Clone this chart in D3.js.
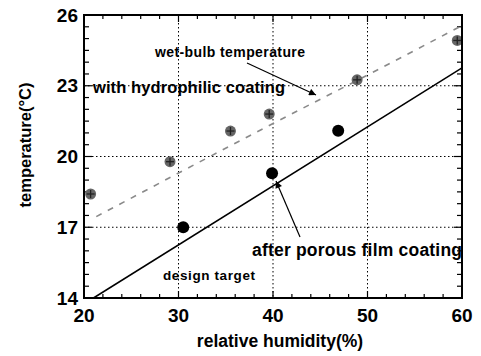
<!DOCTYPE html>
<html><head><meta charset="utf-8">
<script src="https://cdn.jsdelivr.net/npm/d3@7"></script>
<style>body{margin:0;background:#fff}svg{display:block}text{font-family:"Liberation Sans",Arial,sans-serif;fill:#000}</style>
</head><body><svg id="c" width="481" height="356"></svg>
<script>
const hydroRH = [20.7, 29.1, 35.5, 39.6, 48.9, 59.5];
const hydroT  = [18.41, 19.78, 21.08, 21.8, 23.25, 24.92];
const porousRH = [30.5, 39.9, 46.9];
const porousT  = [17.0, 19.29, 21.09];
const targetRH = [21.0, 60];
const targetT  = [14.0, 23.76];
const wetRH = [21.3, 30, 40, 50, 60];
const wetT  = [17.45, 19.3, 21.4, 23.45, 25.55];
const xTicks = [20, 30, 40, 50, 60];
const yTicks = [14, 17, 20, 23, 26];
const xLabel = "relative humidity(%)";
const yLabel = "temperature(°C)";

const svg = d3.select("#c");
const x = d3.scaleLinear().domain([20, 60]).range([84, 462]);
const y = d3.scaleLinear().domain([14, 26]).range([298, 15]);
const L = 84, R = 462, T = 15, B = 298;

svg.append("defs").append("marker").attr("id","ah").attr("viewBox","0 0 10 10")
  .attr("refX",10).attr("refY",5).attr("markerWidth",10).attr("markerHeight",7)
  .attr("markerUnits","userSpaceOnUse").attr("orient","auto")
  .append("path").attr("d","M0,0L10,5L0,10z").attr("fill","#000");

const g = svg.append("g");
xTicks.slice(1,-1).forEach(v => g.append("line").attr("x1",x(v)).attr("x2",x(v)).attr("y1",T).attr("y2",B)
  .attr("stroke","#000").attr("stroke-width",1).attr("stroke-dasharray","1.5,2.5"));
yTicks.slice(1,-1).forEach(v => g.append("line").attr("y1",y(v)).attr("y2",y(v)).attr("x1",L).attr("x2",R)
  .attr("stroke","#000").attr("stroke-width",1).attr("stroke-dasharray","1.5,2.5"));

d3.range(20, 60.01, 2).forEach(v => {
  const len = (v % 10 === 0) ? 7 : 4;
  g.append("line").attr("x1",x(v)).attr("x2",x(v)).attr("y1",B).attr("y2",B-len).attr("stroke","#000").attr("stroke-width",1.2);
  g.append("line").attr("x1",x(v)).attr("x2",x(v)).attr("y1",T).attr("y2",T+len).attr("stroke","#000").attr("stroke-width",1.2);
});
d3.range(14, 26.01, 0.5).forEach(v => {
  const len = (Math.abs((v-14)%3) < 1e-6) ? 8 : 5;
  g.append("line").attr("y1",y(v)).attr("y2",y(v)).attr("x1",L).attr("x2",L+len).attr("stroke","#000").attr("stroke-width",1.2);
  g.append("line").attr("y1",y(v)).attr("y2",y(v)).attr("x1",R).attr("x2",R-len).attr("stroke","#000").attr("stroke-width",1.2);
});

const line = d3.line().x(d => x(d[0])).y(d => y(d[1]));
svg.append("path").datum(d3.zip(wetRH, wetT)).attr("d", line).attr("fill","none")
  .attr("stroke","#8a8a8a").attr("stroke-width",1.6).attr("stroke-dasharray","6,7");

svg.append("path").datum(d3.zip(targetRH, targetT)).attr("d", line).attr("fill","none")
  .attr("stroke","#000").attr("stroke-width",1.5);

const hg = svg.append("g");
d3.zip(hydroRH, hydroT).forEach(d => {
  const cx = x(d[0]), cy = y(d[1]);
  hg.append("circle").attr("cx",cx).attr("cy",cy).attr("r",5.5).attr("fill","#666");
  hg.append("line").attr("x1",cx-4).attr("x2",cx+4).attr("y1",cy).attr("y2",cy).attr("stroke","#222").attr("stroke-width",1.3);
  hg.append("line").attr("y1",cy-4).attr("y2",cy+4).attr("x1",cx).attr("x2",cx).attr("stroke","#222").attr("stroke-width",1.3);
});
svg.append("g").selectAll("circle").data(d3.zip(porousRH, porousT)).join("circle")
  .attr("cx", d => x(d[0])).attr("cy", d => y(d[1])).attr("r", 6).attr("fill", "#000");

svg.append("rect").attr("x",L).attr("y",T).attr("width",R-L).attr("height",B-T)
  .attr("fill","none").attr("stroke","#000").attr("stroke-width",2);

svg.append("g").selectAll("text").data(xTicks).join("text")
  .attr("x", d => x(d)).attr("y", 322).attr("text-anchor","middle")
  .style("font-weight","bold").attr("font-size",19).text(d => d);
svg.append("g").selectAll("text").data(yTicks).join("text")
  .attr("x", 78).attr("y", d => y(d) + 6.5).attr("text-anchor","end")
  .style("font-weight","bold").attr("font-size",19).text(d => d);

svg.append("text").attr("x",280).attr("y",347).attr("text-anchor","middle").attr("font-size",17.5).style("font-weight","bold").text(xLabel);
svg.append("text").attr("transform","translate(31,145) rotate(-90)").attr("text-anchor","middle").attr("font-size",16.5).style("font-weight","bold").text(yLabel);

svg.append("text").attr("x",155).attr("y",57).attr("font-size",14).style("font-weight","bold").attr("textLength",150).text("wet-bulb temperature");
svg.append("text").attr("x",93).attr("y",93).attr("font-size",16.5).style("font-weight","bold").attr("textLength",192).text("with hydrophilic coating");
svg.append("text").attr("x",252).attr("y",256).attr("font-size",17.5).style("font-weight","bold").attr("textLength",210).text("after porous film coating");
svg.append("text").attr("x",163).attr("y",280).attr("font-size",13.5).style("font-weight","bold").attr("textLength",92).text("design target");

svg.append("line").attr("x1",247).attr("y1",63).attr("x2",316).attr("y2",95)
  .attr("stroke","#000").attr("stroke-width",1.2).attr("marker-end","url(#ah)");
svg.append("line").attr("x1",300).attr("y1",237).attr("x2",276).attr("y2",181)
  .attr("stroke","#000").attr("stroke-width",1.2).attr("marker-end","url(#ah)");
</script></body></html>
